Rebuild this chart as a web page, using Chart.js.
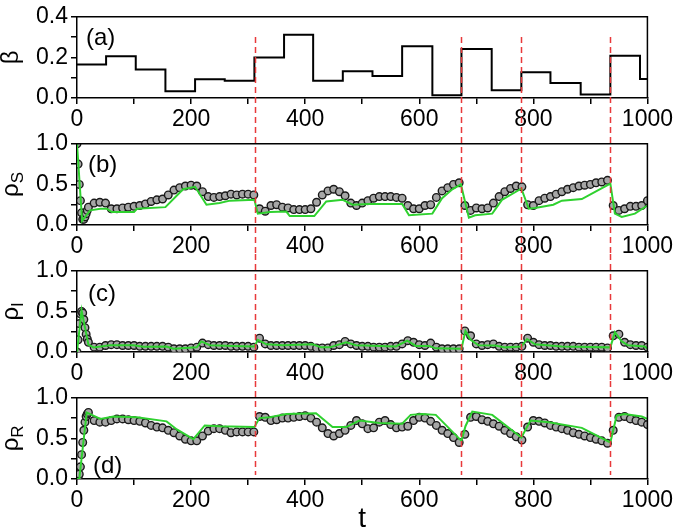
<!DOCTYPE html>
<html>
<head>
<meta charset="utf-8">
<title>SIR with switching infection rate</title>
<script src="https://cdn.jsdelivr.net/npm/chart.js@4.4.1/dist/chart.umd.min.js"></script>
<style>
  html, body { margin: 0; padding: 0; background: #fff; }
  #wrap { position: relative; width: 675px; height: 530px; }
  #wrap canvas { position: absolute; left: 0; }
</style>
</head>
<body>
<div id="wrap">
  <canvas id="panelA" width="675" height="127" style="top:0px"></canvas>
  <canvas id="panelB" width="675" height="127" style="top:127px"></canvas>
  <canvas id="panelC" width="675" height="127" style="top:254px"></canvas>
  <canvas id="panelD" width="675" height="149" style="top:381px"></canvas>
</div>
<script>
// times where beta switches abruptly (red dashed lines)
var switchTimes = [312, 674, 779, 935];

// panel (a): beta, piecewise constant (value held until next time)
var betaTimes = [0, 51, 103, 155, 207, 259, 311, 363, 414, 466, 518, 570, 623, 674, 727, 779, 830, 883, 935, 987, 1000];
var betaValues = [0.165, 0.206, 0.14, 0.033, 0.092, 0.085, 0.2, 0.312, 0.085, 0.132, 0.108, 0.255, 0.014, 0.241, 0.038, 0.127, 0.074, 0.017, 0.208, 0.094, 0.094];

// simulation sample times (open circles)
var simTimes = [0, 2, 4, 6, 8, 10, 12, 14, 16, 18, 20,
    30, 40, 50, 60, 70, 80, 90,
    100, 110, 120, 130, 140, 150, 160, 170, 180, 190,
    200, 210, 220, 230, 240, 250, 260, 270, 280, 290,
    300, 310, 320, 330, 340, 350, 360, 370, 380, 390,
    400, 410, 420, 430, 440, 450, 460, 470, 480, 490,
    500, 510, 520, 530, 540, 550, 560, 570, 580, 590,
    600, 610, 620, 630, 640, 650, 660, 670, 680, 690,
    700, 710, 720, 730, 740, 750, 760, 770, 780, 790,
    800, 810, 820, 830, 840, 850, 860, 870, 880, 890,
    900, 910, 920, 930, 940, 950, 960, 970, 980, 990,
    1000];

// panel (b): susceptible density
var rhoSSim = [1.0, 0.75, 0.5, 0.3, 0.15, 0.07, 0.07, 0.1, 0.14, 0.18, 0.22,
    0.27, 0.28, 0.27, 0.2, 0.2, 0.21, 0.22,
    0.23, 0.24, 0.26, 0.29, 0.31, 0.32, 0.37, 0.43, 0.46, 0.48,
    0.49, 0.48, 0.41, 0.35, 0.34, 0.35, 0.36, 0.38, 0.37, 0.38,
    0.38, 0.37, 0.2, 0.17, 0.24, 0.25, 0.22, 0.21, 0.19, 0.19,
    0.19, 0.2, 0.28, 0.37, 0.42, 0.44, 0.41, 0.36, 0.27, 0.24,
    0.27, 0.3, 0.33, 0.35, 0.35, 0.35, 0.34, 0.33, 0.24, 0.2,
    0.2, 0.24, 0.25, 0.34, 0.42, 0.46, 0.5, 0.52, 0.24, 0.18,
    0.21, 0.2, 0.21, 0.27, 0.35, 0.41, 0.45, 0.48, 0.47, 0.25,
    0.24, 0.3, 0.33, 0.35, 0.38, 0.41, 0.44, 0.46, 0.48, 0.49,
    0.5, 0.52, 0.53, 0.55, 0.24, 0.18, 0.2, 0.23, 0.23, 0.24,
    0.3];
var rhoSModelT = [0, 9, 23, 41, 52, 61, 100, 105, 155, 186, 207, 227, 250, 268, 311, 317, 338, 367, 373, 416,
    437, 466, 483, 512, 570, 582, 623, 640, 658, 673, 687, 698, 728, 745, 777, 779, 792, 803, 835, 850,
    885, 935, 943, 955, 978, 1000];
var rhoSModel = [1.0, 0.05, 0.18, 0.2, 0.2, 0.16, 0.16, 0.2, 0.22, 0.44, 0.47, 0.25, 0.27, 0.3, 0.31, 0.14, 0.16, 0.165, 0.11, 0.11,
    0.29, 0.31, 0.25, 0.26, 0.26, 0.12, 0.14, 0.33, 0.44, 0.5, 0.09, 0.12, 0.14, 0.31, 0.44, 0.45, 0.2, 0.21, 0.25, 0.3,
    0.32, 0.51, 0.14, 0.1, 0.14, 0.24];

// panel (c): infected density
var rhoISim = [0.0, 0.15, 0.35, 0.47, 0.5, 0.48, 0.4, 0.3, 0.22, 0.16, 0.12,
    0.06, 0.06, 0.08, 0.09, 0.09, 0.08, 0.08,
    0.08, 0.07, 0.07, 0.07, 0.07, 0.07, 0.06, 0.04, 0.04, 0.04,
    0.05, 0.06, 0.11, 0.09, 0.08, 0.08, 0.08, 0.07, 0.07, 0.07,
    0.07, 0.06, 0.17, 0.1, 0.08, 0.08, 0.08, 0.08, 0.08, 0.08,
    0.08, 0.07, 0.05, 0.05, 0.05, 0.08, 0.09, 0.13, 0.1, 0.08,
    0.07, 0.07, 0.06, 0.06, 0.06, 0.07, 0.07, 0.1, 0.14, 0.12,
    0.09, 0.08, 0.11, 0.06, 0.04, 0.04, 0.04, 0.04, 0.26, 0.2,
    0.1, 0.08, 0.09, 0.1, 0.07, 0.06, 0.06, 0.06, 0.07, 0.17,
    0.12, 0.09, 0.08, 0.08, 0.07, 0.07, 0.07, 0.07, 0.06, 0.06,
    0.06, 0.06, 0.06, 0.05, 0.2, 0.22, 0.12, 0.09, 0.08, 0.08,
    0.06];
var rhoIModelT = [0, 8, 20, 29, 58, 99, 116, 157, 169, 210, 218, 233, 274, 311, 317, 332, 361, 413, 428, 443,
    472, 489, 559, 579, 594, 617, 629, 674, 681, 690, 704, 733, 751, 779, 789, 803, 850, 935, 943, 955,
    966, 995, 1000];
var rhoIModel = [0, 0.51, 0.09, 0.057, 0.083, 0.083, 0.064, 0.068, 0.04, 0.057, 0.13, 0.083, 0.075, 0.068, 0.15, 0.094, 0.083, 0.094, 0.057, 0.057,
    0.12, 0.083, 0.068, 0.14, 0.075, 0.075, 0.045, 0.04, 0.26, 0.15, 0.083, 0.08, 0.057, 0.068, 0.16, 0.094, 0.068, 0.057, 0.245, 0.13,
    0.083, 0.068, 0.045];

// panel (d): recovered density
var rhoRSim = [0.0, 0.02, 0.06, 0.15, 0.3, 0.45, 0.6, 0.7, 0.77, 0.8, 0.82,
    0.72, 0.7, 0.7, 0.72, 0.74, 0.74, 0.73,
    0.72, 0.71, 0.69, 0.66, 0.64, 0.63, 0.6, 0.57, 0.53, 0.49,
    0.47, 0.47, 0.53, 0.59, 0.62, 0.62, 0.6, 0.57, 0.58, 0.58,
    0.58, 0.58, 0.77, 0.76, 0.72, 0.73, 0.75, 0.75, 0.76, 0.77,
    0.78, 0.75, 0.7, 0.63, 0.56, 0.53, 0.56, 0.6, 0.66, 0.72,
    0.68, 0.62, 0.63, 0.7, 0.72, 0.67, 0.63, 0.64, 0.65, 0.72,
    0.76, 0.75, 0.71, 0.66, 0.6, 0.56, 0.51, 0.45, 0.55, 0.76,
    0.77, 0.73, 0.71, 0.68, 0.65, 0.6, 0.56, 0.52, 0.48, 0.64,
    0.72, 0.71, 0.69, 0.66, 0.64, 0.62, 0.6, 0.57, 0.55, 0.53,
    0.51, 0.49, 0.47, 0.44, 0.6, 0.76, 0.77, 0.74, 0.72, 0.7,
    0.67];
var rhoRModelT = [0, 4, 17, 23, 41, 64, 105, 157, 175, 204, 224, 250, 311, 320, 338, 367, 419, 448, 472, 495,
    530, 570, 585, 605, 629, 674, 681, 693, 728, 779, 795, 827, 885, 935, 946, 960, 990, 1000];
var rhoRModel = [0, 0, 0.82, 0.8, 0.74, 0.77, 0.76, 0.71, 0.61, 0.49, 0.66, 0.65, 0.64, 0.75, 0.76, 0.8, 0.81, 0.64, 0.64, 0.72,
    0.69, 0.68, 0.79, 0.8, 0.79, 0.47, 0.65, 0.83, 0.79, 0.51, 0.72, 0.7, 0.63, 0.45, 0.78, 0.8, 0.77, 0.74];

var FONT = '"Liberation Sans", Arial, Helvetica, sans-serif';
Chart.defaults.font.family = FONT;
Chart.defaults.font.size = 23;
Chart.defaults.color = '#000';
Chart.defaults.animation = false;

function points(xs, ys) {
    return xs.map(function (x, i) { return { x: x, y: ys[i] }; });
}

// frame, switch lines, panel letter and y title (with subscript)
var panelDecor = {
    id: 'panelDecor',
    afterDraw: function (chart, args, o) {
        var ctx = chart.ctx;
        var area = chart.chartArea;
        var xs = chart.scales.x, ys = chart.scales.y;
        ctx.save();

        // top and right side of the box
        ctx.strokeStyle = '#000';
        ctx.lineWidth = 1.5;
        ctx.beginPath();
        ctx.moveTo(area.left, area.top);
        ctx.lineTo(area.right, area.top);
        ctx.lineTo(area.right, area.bottom);
        ctx.stroke();

        // red dashed lines at the switching times
        ctx.strokeStyle = '#e8393b';
        ctx.lineWidth = 1.5;
        ctx.setLineDash([6, 4]);
        var y0 = o.dashFrom != null ? ys.getPixelForValue(o.dashFrom) : 0;
        var y1 = o.dashTo != null ? ys.getPixelForValue(o.dashTo) : chart.height;
        switchTimes.forEach(function (t) {
            var x = Math.round(xs.getPixelForValue(t)) + 0.5;
            ctx.beginPath();
            ctx.moveTo(x, y0);
            ctx.lineTo(x, y1);
            ctx.stroke();
        });
        ctx.setLineDash([]);

        // panel letter
        ctx.fillStyle = '#000';
        ctx.font = '24px ' + FONT;
        ctx.textAlign = 'left';
        ctx.textBaseline = 'middle';
        ctx.fillText(o.letter, area.left + o.letterDx, area.top + o.letterDy);

        // rotated y title
        ctx.translate(o.titleX, (area.top + area.bottom) / 2);
        ctx.rotate(-Math.PI / 2);
        ctx.textBaseline = 'alphabetic';
        ctx.font = '24px ' + FONT;
        var wMain = ctx.measureText(o.title).width;
        ctx.font = '17px ' + FONT;
        var wSub = o.sub ? ctx.measureText(o.sub).width : 0;
        var x0 = -(wMain + wSub) / 2;
        ctx.font = '24px ' + FONT;
        ctx.fillText(o.title, x0, 0);
        if (o.sub) {
            ctx.font = '17px ' + FONT;
            ctx.fillText(o.sub, x0 + wMain, 5);
        }
        ctx.restore();
    }
};

var axisGrid = { display: true, drawOnChartArea: false, drawTicks: true, tickLength: 6, color: '#000', lineWidth: 1.5 };
var axisBorder = { display: true, color: '#000', width: 1.5 };

function makePanel(id, cfg) {
    var canvas = document.getElementById(id);
    var h = canvas.height;
    return new Chart(canvas, {
        type: 'line',
        data: { datasets: cfg.datasets },
        options: {
            responsive: false,
            layout: { padding: { top: 10, right: 26, left: 0, bottom: 0 } },
            plugins: {
                legend: { display: false },
                tooltip: { enabled: false },
                panelDecor: cfg.decor
            },
            scales: {
                x: {
                    type: 'linear',
                    min: 0,
                    max: 1000,
                    ticks: {
                        stepSize: 100,
                        padding: 2,
                        maxRotation: 0,
                        autoSkip: false,
                        callback: function (v) { return v % 200 === 0 ? String(v) : ''; }
                    },
                    grid: axisGrid,
                    border: axisBorder,
                    title: cfg.xTitle || { display: false },
                    afterFit: function (s) { s.height = h - 10 - 88; }
                },
                y: {
                    min: 0,
                    max: cfg.yMax,
                    ticks: { stepSize: cfg.yStep, padding: 3, autoSkip: false, callback: cfg.yLabel },
                    grid: axisGrid,
                    border: axisBorder,
                    afterFit: function (s) { s.width = 77; }
                }
            }
        },
        plugins: [panelDecor]
    });
}

function simSet(values) {
    return {
        data: points(simTimes, values),
        showLine: false,
        pointRadius: 3.8,
        pointBorderWidth: 1.4,
        pointBorderColor: '#1a1a1a',
        pointBackgroundColor: '#a6a6a6',
        order: 2
    };
}

function modelSet(ts, values) {
    return {
        data: points(ts, values),
        borderColor: '#2fd12f',
        borderWidth: 2,
        pointRadius: 0,
        fill: false,
        order: 1
    };
}

var halfLabel = function (v) { return Math.round(v * 4) % 2 === 0 ? v.toFixed(1) : ''; };

makePanel('panelA', {
    datasets: [{
        data: points(betaTimes, betaValues),
        stepped: 'before',
        borderColor: '#000',
        borderWidth: 2,
        pointRadius: 0,
        fill: false
    }],
    yMax: 0.4,
    yStep: 0.1,
    yLabel: function (v) { return Math.round(v * 10) % 2 === 0 ? v.toFixed(1) : ''; },
    decor: { letter: '(a)', letterDx: 9, letterDy: 22, title: 'β', sub: '', titleX: 18, dashFrom: 0.3 }
});

makePanel('panelB', {
    datasets: [modelSet(rhoSModelT, rhoSModel), simSet(rhoSSim)],
    yMax: 1,
    yStep: 0.25,
    yLabel: halfLabel,
    decor: { letter: '(b)', letterDx: 11, letterDy: 22, title: 'ρ', sub: 'S', titleX: 18 }
});

makePanel('panelC', {
    datasets: [modelSet(rhoIModelT, rhoIModel), simSet(rhoISim)],
    yMax: 1,
    yStep: 0.25,
    yLabel: halfLabel,
    decor: { letter: '(c)', letterDx: 11, letterDy: 24, title: 'ρ', sub: 'I', titleX: 18 }
});

makePanel('panelD', {
    datasets: [modelSet(rhoRModelT, rhoRModel), simSet(rhoRSim)],
    yMax: 1,
    yStep: 0.25,
    yLabel: halfLabel,
    xTitle: { display: true, text: 't', font: { size: 28, lineHeight: 0.8 }, padding: { top: 0, bottom: 0 } },
    decor: { letter: '(d)', letterDx: 16, letterDy: 69, title: 'ρ', sub: 'R', titleX: 18, dashTo: 0.05 }
});
</script>
</body>
</html>
